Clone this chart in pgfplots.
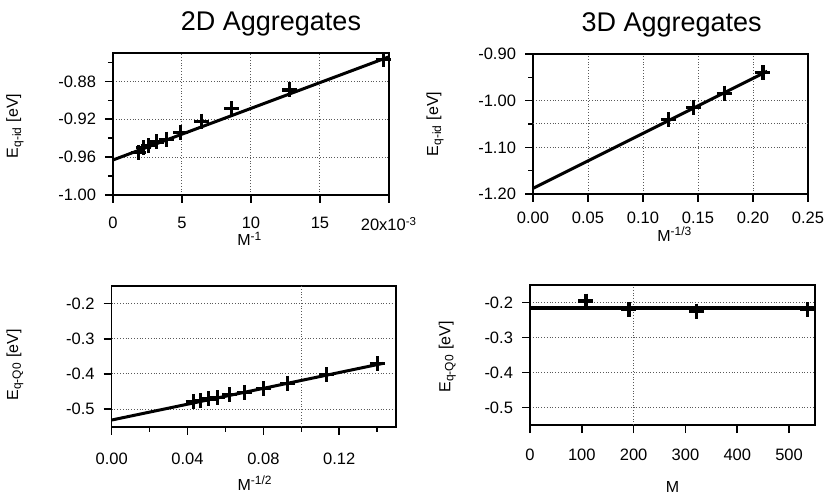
\documentclass[border=0pt]{standalone}
\usepackage{fontspec}
\setmainfont{Liberation Sans}
\usepackage{pgfplots}
\pgfplotsset{compat=1.18}
\pgfplotsset{igor/.style={
  scale only axis,
  axis line style={line width=0.8pt},
  tick align=outside, tick pos=left,
  major tick length=4pt, minor tick length=2.5pt,
  every tick/.style={black, line width=0.8pt},
  grid=major,
  major grid style={densely dotted, gray!70!black, line width=0.5pt},
  tick label style={font=\fontsize{8.25}{10}\selectfont},
  label style={font=\fontsize{8}{10}\selectfont},
  yticklabel style={xshift=-1pt},
  scaled ticks=false,
  clip=true,
}}
\pgfplotsset{
  fitline/.style={black, line width=1.5pt, no marks},
  pts/.style={only marks, mark=+, mark size=3.75pt, mark options={line width=1.6pt, black}},
}
\begin{document}
\begin{tikzpicture}
\path[use as bounding box] (0,0) rectangle (412.5pt,246.5pt);
\node[font=\fontsize{13.5}{16}\selectfont, anchor=base] at (135.5pt,231.2pt) {2D Aggregates};
\node[font=\fontsize{13.5}{16}\selectfont, anchor=base] at (335.8pt,230.5pt) {3D Aggregates};

% Top-left
\begin{axis}[igor, at={(56.5pt,149pt)}, anchor=south west,
  width=138pt, height=71pt,
  xmin=0, xmax=20, ymin=-1.00, ymax=-0.85,
  xtick={0,5,10,15,20},
  xticklabels={0,5,10,15,{20x10\textsuperscript{-3}}},
  xticklabel style={yshift=-3.5pt},
  ytick={-1.00,-0.96,-0.92,-0.88},
  yticklabels={-1.00,-0.96,-0.92,-0.88},
  minor ytick={-0.98,-0.94,-0.90,-0.86},
  xlabel={M\textsuperscript{-1}},
  ylabel={E\textsubscript{q-id} [eV]},
  xlabel style={at={(axis description cs:0.496,-0.31)}, anchor=center},
  ylabel style={at={(axis description cs:-0.355,0.486)}, anchor=center},
]
\addplot[fitline] coordinates {(0,-0.963) (20,-0.854)};
\addplot[pts] coordinates {
(1.85,-0.955) (2.2,-0.950) (2.6,-0.948) (3.13,-0.944) (3.85,-0.941)
(4.9,-0.934) (6.4,-0.922) (8.6,-0.909) (12.8,-0.889) (19.6,-0.857)};
\end{axis}

% Top-right
\begin{axis}[igor, at={(266.5pt,149.5pt)}, anchor=south west,
  width=137.5pt, height=70pt,
  xmin=0, xmax=0.25, ymin=-1.2, ymax=-0.9,
  xtick={0,0.05,0.10,0.15,0.20,0.25},
  xticklabels={0.00,0.05,0.10,0.15,0.20,0.25},
  xticklabel style={yshift=-1.5pt},
  ytick={-1.2,-1.1,-1.0,-0.9},
  yticklabels={-1.20,-1.10,-1.00,-0.90},
  minor ytick={-1.15,-0.95},
  extra y ticks={-1.05}, extra y tick labels={},
  extra y tick style={major tick length=2.5pt},
  xlabel={M\textsuperscript{-1/3}},
  ylabel={E\textsubscript{q-id} [eV]},
  xlabel style={at={(axis description cs:0.516,-0.285)}, anchor=center},
  ylabel style={at={(axis description cs:-0.356,0.5)}, anchor=center},
]
\addplot[fitline] coordinates {(0,-1.188) (0.213,-0.937)};
\addplot[pts] coordinates {(0.123,-1.041) (0.146,-1.014) (0.174,-0.984) (0.209,-0.940)};
\end{axis}

% Bottom-left
\begin{axis}[igor, at={(55.85pt,33.15pt)}, anchor=south west,
  width=142.2pt, height=70.3pt,
  xmin=0, xmax=0.15, ymin=-0.55, ymax=-0.15,
  xtick={0,0.04,0.08,0.12},
  xticklabels={0.00,0.04,0.08,0.12},
  xticklabel style={yshift=-5.5pt},
  minor xtick={0.02,0.06,0.14},
  xmajorgrids=false,
  extra x ticks={0.10}, extra x tick labels={},
  extra x tick style={major tick length=2.5pt, xmajorgrids=true},
  ytick={-0.5,-0.4,-0.3,-0.2},
  yticklabels={-0.5,-0.4,-0.3,-0.2},
  xlabel={M\textsuperscript{-1/2}},
  ylabel={E\textsubscript{q-Q0} [eV]},
  xlabel style={at={(axis description cs:0.504,-0.40)}, anchor=center},
  ylabel style={at={(axis description cs:-0.34,0.44)}, anchor=center},
]
\addplot[fitline] coordinates {(0,-0.531) (0.143,-0.370)};
\addplot[pts] coordinates {
(0.0430,-0.478) (0.0470,-0.475) (0.0510,-0.471) (0.0560,-0.468) (0.0620,-0.459)
(0.0700,-0.452) (0.0800,-0.442) (0.0928,-0.426) (0.1133,-0.402) (0.1400,-0.371)};
\end{axis}

% Bottom-right
\begin{axis}[igor, at={(265pt,34pt)}, anchor=south west,
  width=142.5pt, height=70pt,
  xmin=0, xmax=550, ymin=-0.55, ymax=-0.15,
  xtick={0,100,200,300,400,500},
  xticklabels={0,100,200,300,400,500},
  xticklabel style={yshift=-4.5pt},
  xmajorgrids=false,
  extra x ticks={200}, extra x tick labels={},
  extra x tick style={xmajorgrids=true},
  ytick={-0.5,-0.4,-0.3,-0.2},
  yticklabels={-0.5,-0.4,-0.3,-0.2},
  xlabel={M},
  ylabel={E\textsubscript{q-Q0} [eV]},
  xlabel style={at={(axis description cs:0.50,-0.443)}, anchor=center},
  ylabel style={at={(axis description cs:-0.29,0.486)}, anchor=center},
]
\addplot[black, line width=2pt, no marks] coordinates {(0,-0.217) (550,-0.217)};
\addplot[pts] coordinates {(108,-0.196) (191,-0.221) (322,-0.225) (535,-0.221)};
\end{axis}
\end{tikzpicture}
\end{document}
